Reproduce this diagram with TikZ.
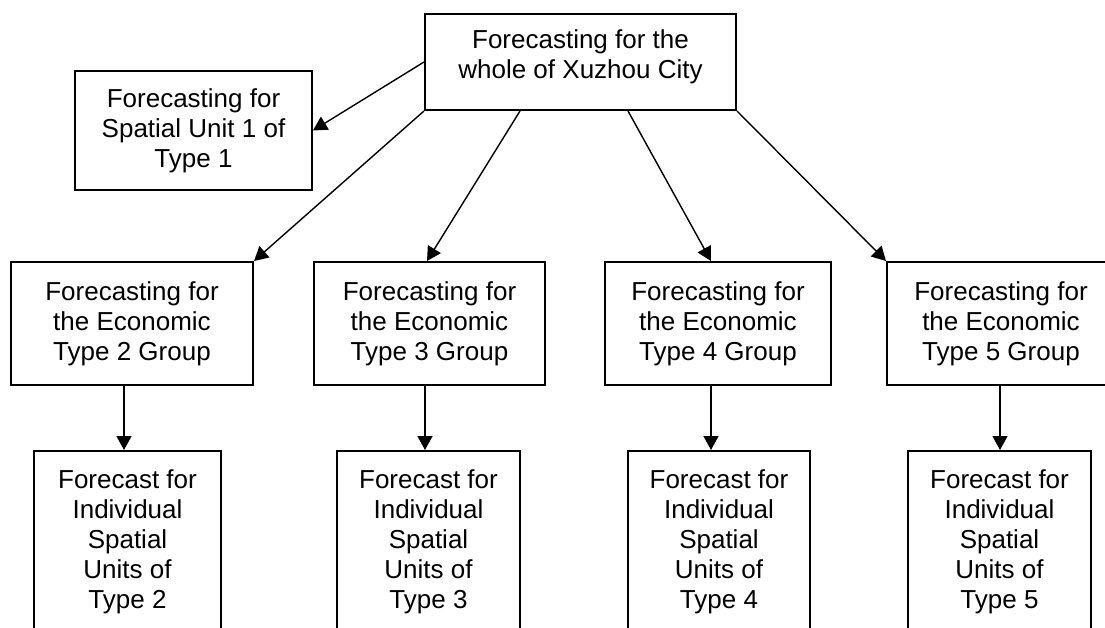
\documentclass[tikz,border=0pt]{standalone}
\usepackage{fontspec}
\setmainfont{Liberation Sans}
\usetikzlibrary{arrows.meta}
\tikzset{
  box/.style={draw, line width=2pt, align=center, inner sep=2pt,
              font=\fontsize{26pt}{30pt}\selectfont},
  flow/.style={-{Triangle[length=14pt,width=15pt]}, line width=1.4pt},
}
\begin{document}
\begin{tikzpicture}[x=1pt, y=-1pt]
  \useasboundingbox (0,0) rectangle (1105,628);
  \clip (0,0) rectangle (1105,628);
  % city and type 1
  \node[box, minimum width=311pt, minimum height=96pt, text depth=15pt] (city) at (580.5,62)
    {Forecasting for the\\whole of Xuzhou City};
  \node[box, minimum width=237pt, minimum height=119pt] (type1) at (193.5,130.5)
    {Forecasting for\\Spatial Unit 1 of\\Type 1};
  % economic type groups
  \foreach \n/\x/\w in {2/132/242, 3/429.5/231, 4/718/226, 5/1001/228}
    \node[box, minimum width=\w pt, minimum height=123pt] (grp\n) at (\x,323.5)
      {Forecasting for\\the Economic\\Type \n\ Group};
  % individual spatial units
  \foreach \n/\x/\w in {2/127.5/187, 3/428.5/183, 4/719/182, 5/999.5/183}
    \node[box, minimum width=\w pt, minimum height=182pt] (ind\n) at (\x,542)
      {Forecast for\\Individual\\Spatial\\Units of\\Type \n};
  \draw[flow] (city.west) -- (type1.east);
  \draw[flow] (city.south west) -- (grp2.north east);
  \draw[flow] ([xshift=-60.5pt]city.south) -- ([xshift=-2.5pt]grp3.north);
  \draw[flow] ([xshift=47.5pt]city.south) -- ([xshift=-7pt]grp4.north);
  \draw[flow] (city.south east) -- (grp5.north west);
  \foreach \n/\dx in {2/-3.5, 3/-3.5, 4/-8, 5/0.5}
    \draw[flow] ([xshift=\dx pt]ind\n.north |- grp\n.south) -- ([xshift=\dx pt]ind\n.north);
\end{tikzpicture}
\end{document}
